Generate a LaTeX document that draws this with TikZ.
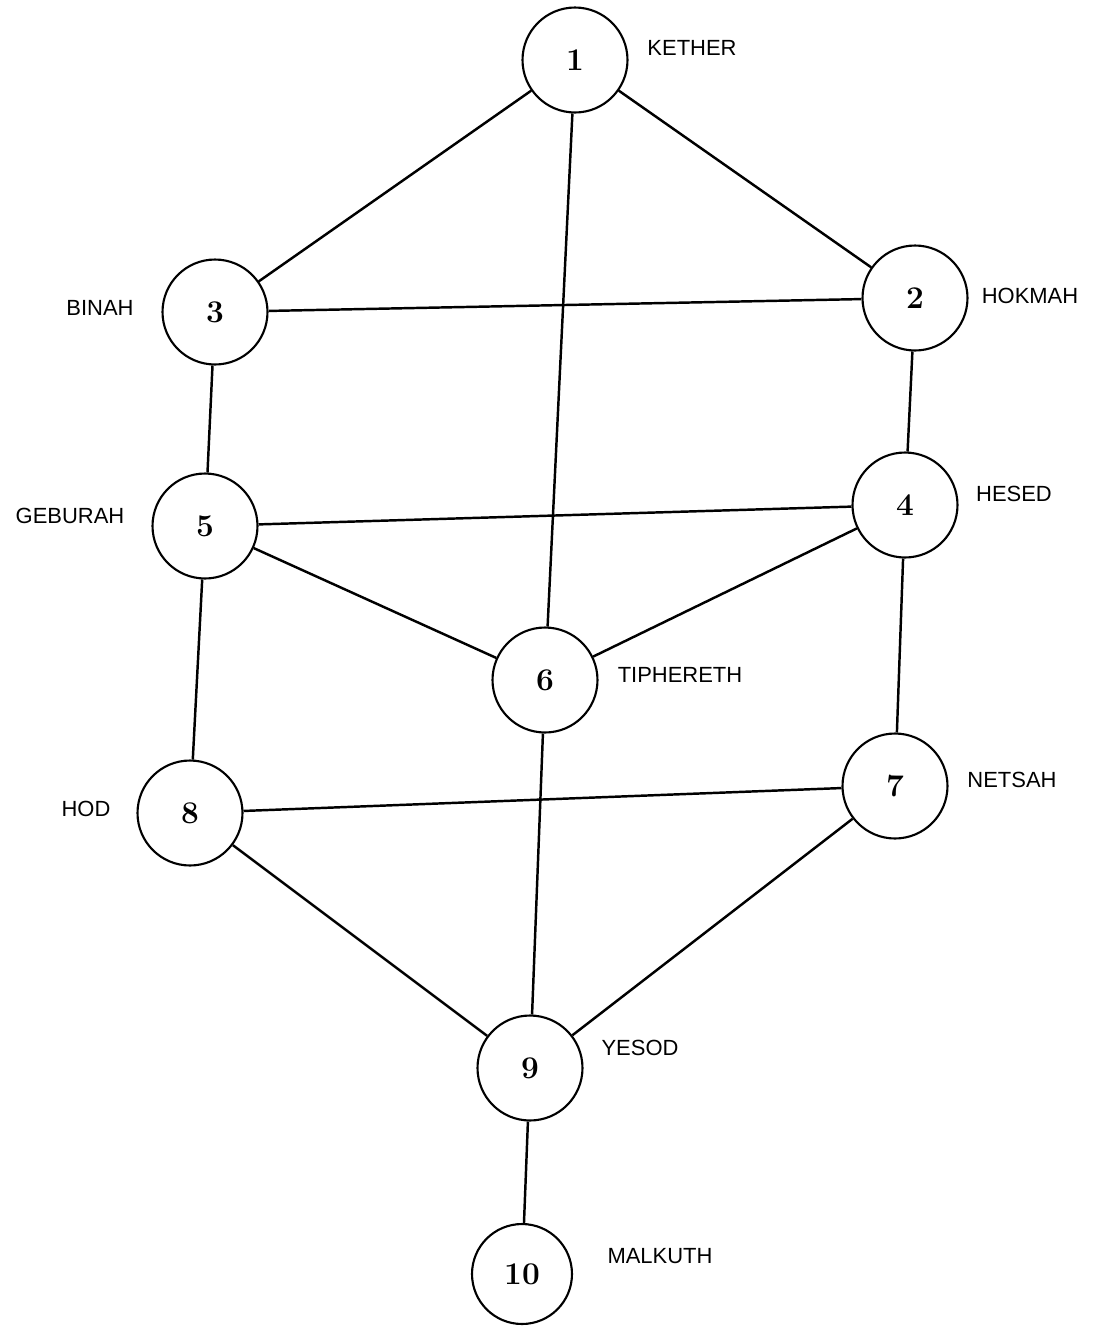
\documentclass[tikz,border=0pt]{standalone}
\usepackage{fontspec}
\setsansfont{Liberation Sans}
\usepackage{tikz}
\usetikzlibrary{positioning}

\tikzset{
	sephirah/.style={circle, draw, line width=1.2pt, minimum size=2.1cm, inner sep=0pt, font=\fontsize{18}{20}\selectfont\bfseries},
	sephname/.style={font=\sffamily\fontsize{12.5}{14}\selectfont, inner sep=0pt},
	path/.style={line width=1.4pt}
}

\begin{document}
\begin{tikzpicture}[x=0.02cm, y=-0.02cm]
	
	% ------------------------------------------------
	% Ensure the dimensions of graphic are appropriate
	\useasboundingbox (0,0) rectangle (1097,1326);
	
	% ------------------------------------------------
	% Sephiroth
	\node[sephirah] (S1)  at (575,60)   {1};
	\node[sephirah] (S2)  at (915,298)  {2};
	\node[sephirah] (S3)  at (215,312)  {3};
	\node[sephirah] (S4)  at (905,505)  {4};
	\node[sephirah] (S5)  at (205,526)  {5};
	\node[sephirah] (S6)  at (545,680)  {6};
	\node[sephirah] (S7)  at (895,786)  {7};
	\node[sephirah] (S8)  at (190,813)  {8};
	\node[sephirah] (S9)  at (530,1068) {9};
	\node[sephirah, minimum size=2.0cm] (S10) at (522,1274) {10};
	
	% ----------------
	% Names
	\node[sephname] (Kether)    at (692,48)   {KETHER};
	\node[sephname] (Hokmah)    at (1030,296) {HOKMAH};
	\node[sephname] (Binah)     at (100,308)  {BINAH};
	\node[sephname] (Hesed)     at (1014,494) {HESED};
	\node[sephname] (Geburah)   at (70,516)   {GEBURAH};
	\node[sephname] (Tiphereth) at (680,675)  {TIPHERETH};
	\node[sephname] (Netsah)    at (1012,780) {NETSAH};
	\node[sephname] (Hod)       at (86,809)   {HOD};
	\node[sephname] (Yesod)     at (640,1048) {YESOD};
	\node[sephname] (Malkuth)   at (660,1256) {MALKUTH};
	
	%%%%%%%%%%%%%%%%%%%%%%%%%%%%%%%%%%%%%%%%%
	% Paths
	\draw[path] (S1) -- (S3);
	\draw[path] (S1) -- (S2);
	\draw[path] (S1) -- (S6);
	\draw[path] (S3) -- (S2);
	\draw[path] (S3) -- (S5);
	\draw[path] (S2) -- (S4);
	\draw[path] (S5) -- (S4);
	\draw[path] (S5) -- (S6);
	\draw[path] (S4) -- (S6);
	\draw[path] (S4) -- (S7);
	\draw[path] (S5) -- (S8);
	\draw[path] (S6) -- (S9);
	\draw[path] (S8) -- (S7);
	\draw[path] (S8) -- (S9);
	\draw[path] (S7) -- (S9);
	\draw[path] (S9) -- (S10);
	
\end{tikzpicture}
\end{document}
